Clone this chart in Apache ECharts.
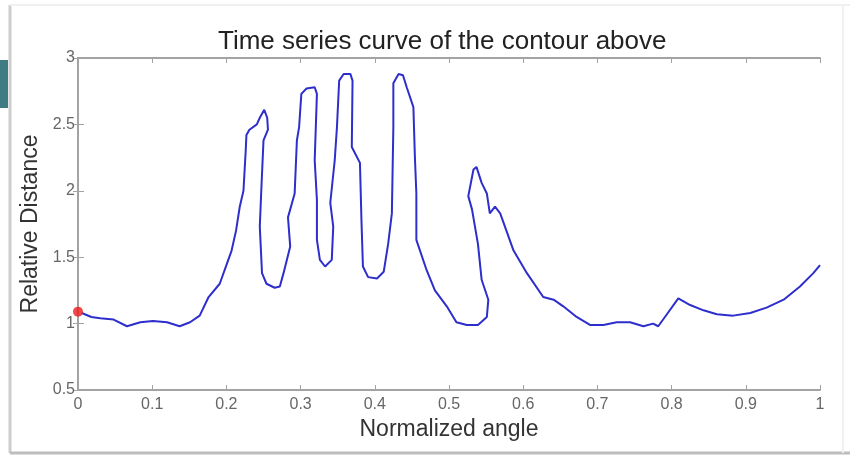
<!DOCTYPE html>
<html>
<head>
<meta charset="utf-8">
<script src="https://cdn.jsdelivr.net/npm/echarts@6/dist/echarts.min.js"></script>
<style>
  html, body { margin: 0; padding: 0; background: #fff; }
  #chart { width: 850px; height: 457px; }
</style>
</head>
<body>
<div id="chart"></div>
<script>
  // contour traced in order (x goes back and forth inside the loops)
  const angle = [0.005, 0.018, 0.03, 0.048, 0.066, 0.084, 0.101, 0.12, 0.137, 0.151, 0.164,
    0.176, 0.191, 0.200, 0.207, 0.213, 0.218, 0.223, 0.226, 0.227, 0.231, 0.241,
    0.245, 0.251, 0.255, 0.256, 0.250, 0.247, 0.245, 0.248, 0.254, 0.265,
    0.272, 0.277, 0.286, 0.283, 0.292, 0.295, 0.298, 0.301, 0.308, 0.319,
    0.322, 0.319, 0.322, 0.322, 0.326, 0.333, 0.342, 0.344, 0.340, 0.346,
    0.349, 0.352, 0.358, 0.367, 0.370, 0.369, 0.380, 0.382, 0.384, 0.391,
    0.403, 0.412, 0.418, 0.423, 0.425, 0.425, 0.432, 0.438, 0.443, 0.452,
    0.454, 0.456, 0.456, 0.470, 0.481, 0.497, 0.510, 0.524, 0.539, 0.551,
    0.553, 0.544, 0.539, 0.531, 0.526, 0.533, 0.537, 0.544, 0.551, 0.555,
    0.562, 0.569, 0.587, 0.605, 0.627, 0.641, 0.654, 0.672, 0.690, 0.708,
    0.726, 0.744, 0.762, 0.775, 0.782, 0.791, 0.809, 0.825, 0.843, 0.861,
    0.883, 0.906, 0.928, 0.951, 0.973, 0.991, 1.0];
  const distance = [1.08, 1.05, 1.04, 1.03, 0.98, 1.01, 1.02, 1.01, 0.98, 1.01, 1.06,
    1.20, 1.30, 1.44, 1.55, 1.70, 1.88, 2.00, 2.30, 2.42, 2.46, 2.50,
    2.55, 2.61, 2.55, 2.46, 2.38, 2.00, 1.73, 1.38, 1.30, 1.27,
    1.28, 1.38, 1.58, 1.80, 1.98, 2.38, 2.48, 2.73, 2.77, 2.78,
    2.73, 2.23, 1.93, 1.63, 1.48, 1.43, 1.48, 1.73, 1.91, 2.23,
    2.48, 2.83, 2.88, 2.88, 2.83, 2.33, 2.21, 1.78, 1.43, 1.35,
    1.34, 1.39, 1.60, 1.83, 2.48, 2.81, 2.88, 2.87, 2.78, 2.63,
    2.26, 1.98, 1.63, 1.40, 1.25, 1.13, 1.01, 0.99, 0.99, 1.05,
    1.18, 1.33, 1.60, 1.86, 1.96, 2.16, 2.18, 2.06, 1.98, 1.83,
    1.88, 1.83, 1.55, 1.38, 1.20, 1.18, 1.13, 1.05, 0.99, 0.99,
    1.01, 1.01, 0.98, 1.00, 0.98, 1.05, 1.19, 1.14, 1.10, 1.07,
    1.06, 1.08, 1.12, 1.18, 1.28, 1.38, 1.44];
  const startPoint = [0, 1.09];

  const xTicks = { min: 0, max: 1, interval: 0.1 };
  const yTicks = { min: 0.5, max: 3, interval: 0.5 };

  const curve = [];
  for (var i = 0; i < angle.length; i++) {
    curve.push([angle[i], distance[i]]);
  }

  const axisGray = '#a3a3a3';
  const labelGray = '#666';
  const font = '"Liberation Sans", Arial, sans-serif';

  let myChart = echarts.init(document.getElementById('chart'));
  myChart.setOption({
    backgroundColor: '#fff',
    animation: false,
    title: {
      text: 'Time series curve of the contour above',
      left: 213,
      top: 24,
      textStyle: { fontFamily: font, fontSize: 26, fontWeight: 'normal', color: '#222' }
    },
    grid: { left: 78, top: 58, width: 742, height: 332 },
    xAxis: [{
      type: 'value',
      min: xTicks.min, max: xTicks.max, interval: xTicks.interval,
      name: 'Normalized angle',
      nameLocation: 'middle',
      nameGap: 24,
      nameTextStyle: { fontFamily: font, fontSize: 23, color: '#333' },
      axisLine: { show: true, lineStyle: { color: axisGray, width: 2 } },
      axisTick: { show: true, inside: true, length: 5, lineStyle: { color: axisGray } },
      axisLabel: { fontFamily: font, fontSize: 16, color: labelGray, margin: 7 },
      splitLine: { show: false }
    }, {
      type: 'value', position: 'top',
      min: xTicks.min, max: xTicks.max, interval: xTicks.interval,
      axisLine: { show: true, lineStyle: { color: axisGray, width: 2 } },
      axisTick: { show: true, inside: true, length: 5, lineStyle: { color: axisGray } },
      axisLabel: { show: false },
      splitLine: { show: false }
    }],
    yAxis: [{
      type: 'value',
      min: yTicks.min, max: yTicks.max, interval: yTicks.interval,
      name: 'Relative Distance',
      nameLocation: 'middle',
      nameGap: 36,
      nameTextStyle: { fontFamily: font, fontSize: 23, color: '#333' },
      axisLine: { show: true, lineStyle: { color: axisGray, width: 2 } },
      axisTick: { show: true, inside: true, length: 6, lineStyle: { color: axisGray } },
      axisLabel: { fontFamily: font, fontSize: 16, color: labelGray, margin: 3 },
      splitLine: { show: false }
    }, {
      type: 'value', position: 'right',
      min: yTicks.min, max: yTicks.max, interval: yTicks.interval,
      axisLine: { show: true, lineStyle: { color: axisGray, width: 2 } },
      axisTick: { show: true, inside: true, length: 5, lineStyle: { color: axisGray } },
      axisLabel: { show: false },
      splitLine: { show: false }
    }],
    series: [{
      type: 'line',
      data: curve,
      showSymbol: false,
      smooth: false,
      lineStyle: { color: '#2e2ecc', width: 2 },
      z: 3
    }, {
      type: 'scatter',
      data: [startPoint],
      symbolSize: 10,
      itemStyle: { color: '#ee1c1c' },
      z: 4
    }],
    graphic: [
      { type: 'line', shape: { x1: 10, y1: 5, x2: 10, y2: 453 }, style: { stroke: '#cdcdcd', lineWidth: 3 } },
      { type: 'line', shape: { x1: 10, y1: 453, x2: 850, y2: 453 }, style: { stroke: '#bdbdbd', lineWidth: 3 } },
      { type: 'line', shape: { x1: 10, y1: 5, x2: 850, y2: 5 }, style: { stroke: '#f0f0f0', lineWidth: 2 } },
      { type: 'line', shape: { x1: 843, y1: 5, x2: 843, y2: 453 }, style: { stroke: '#f0f0f0', lineWidth: 2 } },
      { type: 'rect', shape: { x: 0, y: 60, width: 8, height: 48 }, style: { fill: '#3e7b82' } }
    ]
  });
</script>
</body>
</html>
